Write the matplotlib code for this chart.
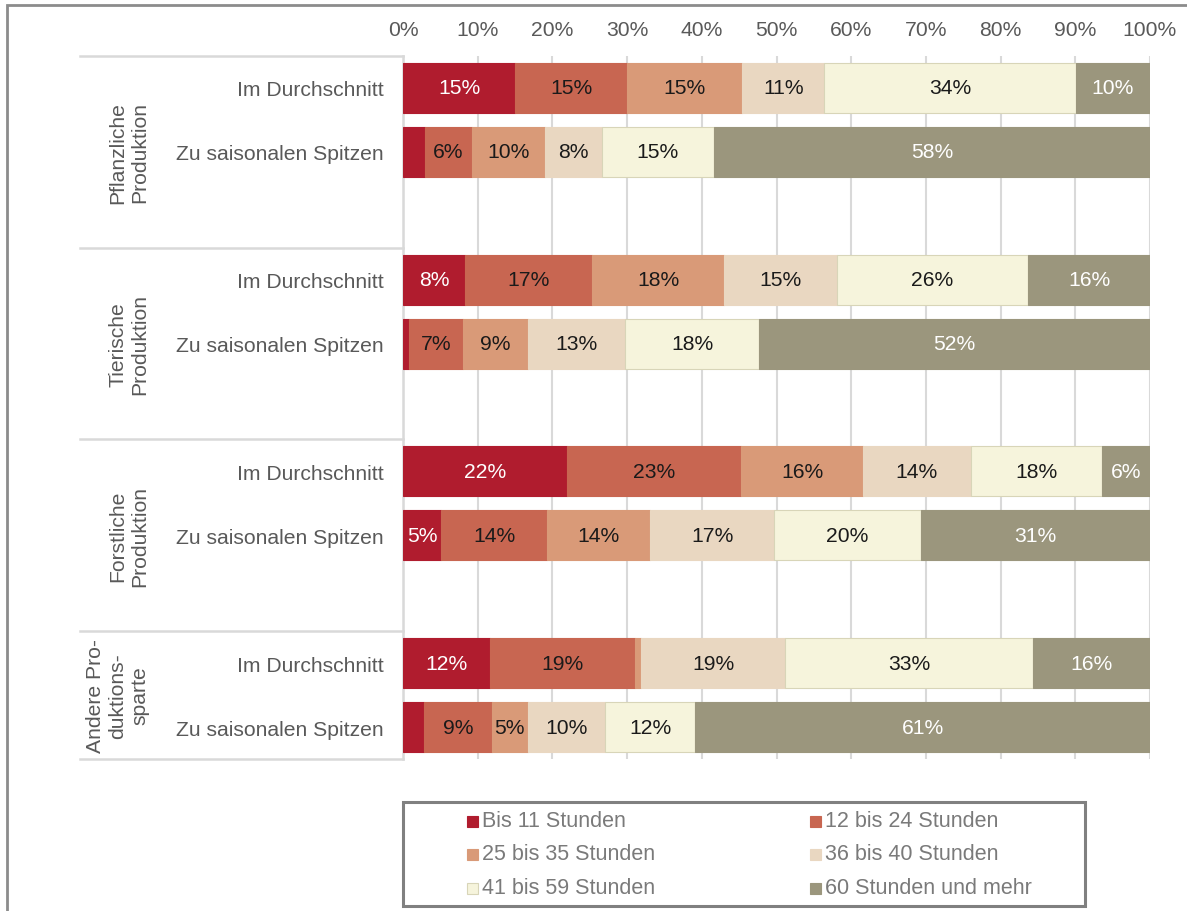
import matplotlib
matplotlib.use("Agg")
import matplotlib.pyplot as plt
from matplotlib.patches import Rectangle
import matplotlib.transforms as mtransforms
import numpy as np

plt.rcParams['font.family'] = ['Liberation Sans', 'DejaVu Sans']

# ---------------- data ----------------
groups = ["Pflanzliche\nProduktion", "Tierische\nProduktion",
          "Forstliche\nProduktion", "Andere Pro-\nduktions-\nsparte"]
rows = ["Im Durchschnitt", "Zu saisonalen Spitzen"]
series = ["Bis 11 Stunden", "12 bis 24 Stunden", "25 bis 35 Stunden",
          "36 bis 40 Stunden", "41 bis 59 Stunden", "60 Stunden und mehr"]
colors = ["#B01C2E", "#C86651", "#D99A78", "#E9D7C1", "#F6F4DC", "#9B967D"]
label_colors = ["white", "#1a1a1a", "#1a1a1a", "#1a1a1a", "#1a1a1a", "white"]

# values per bar (order: group 1 avg, group 1 peak, group 2 avg, ...)
bis11   = [15.0, 2.9, 8.3, 0.8, 22.0, 5.1, 11.6, 2.8]
h12_24  = [15.0, 6.3, 17.0, 7.2, 23.3, 14.2, 19.4, 9.1]
h25_35  = [15.4, 9.8, 17.7, 8.8, 16.3, 13.8, 0.8, 4.8]
h36_40  = [11.0, 7.6, 15.1, 12.9, 14.4, 16.6, 19.4, 10.4]
h41_59  = [33.7, 15.0, 25.6, 18.0, 17.6, 19.6, 33.2, 12.0]
h60plus = [9.9, 58.4, 16.3, 52.3, 6.4, 30.7, 15.6, 60.9]
values = np.array([bis11, h12_24, h25_35, h36_40, h41_59, h60plus])

xticks = [0, 10, 20, 30, 40, 50, 60, 70, 80, 90, 100]

# ---------------- layout ----------------
W, H = 1187, 912
fig = plt.figure(figsize=(W / 100, H / 100), dpi=100)
ax = fig.add_axes([403 / W, 1 - 760 / H, (1150 - 403) / W, (760 - 57) / H])

# slot positions: each group has 2 bars + a gap slot
ypos = []
for g in range(len(groups)):
    ypos += [3 * g, 3 * g + 1]
ypos = np.array(ypos, dtype=float)

FS = 15.2
bar_h = 0.78
left = np.zeros(len(ypos))
for i, (name, col) in enumerate(zip(series, colors)):
    vals = values[i]
    edge = "#D8D5B8" if i == 4 else col
    ax.barh(ypos, vals, left=left, height=bar_h, color=col, edgecolor=edge,
            linewidth=0.8, zorder=3)
    for y, l, v in zip(ypos, left, vals):
        if v >= 4:
            ax.text(l + v / 2, y, f"{v:.0f}%", ha="center", va="center",
                    fontsize=FS, color=label_colors[i], zorder=4)
    left = left + vals

ax.set_xlim(0, 100)
ax.set_ylim(10.5, -0.5)
ax.xaxis.tick_top()
ax.set_xticks(xticks)
ax.set_xticklabels([f"{t}%" for t in xticks])
ax.tick_params(axis="x", length=0, pad=12, labelsize=FS, labelcolor="#595959")
ax.set_yticks(ypos)
ax.set_yticklabels(rows * len(groups))
ax.tick_params(axis="y", length=0, pad=14, labelsize=FS, labelcolor="#595959")

ax.grid(axis="x", color="#D9D9D9", linewidth=1.5, zorder=0)
for s in ["top", "right", "bottom"]:
    ax.spines[s].set_visible(False)
ax.spines["left"].set_color("#D9D9D9")
ax.spines["left"].set_linewidth(1.8)

# group separators and group labels
trans = mtransforms.blended_transform_factory(ax.transAxes, ax.transData)
bounds = [-0.5, 2.5, 5.5, 8.5, 10.5]
x_left = (80 - 403) / (1150 - 403)
for b in bounds:
    ax.plot([x_left, 0], [b, b], transform=trans, color="#D9D9D9",
            linewidth=1.8, clip_on=False, zorder=1)
for g, name in enumerate(groups):
    yc = (bounds[g] + bounds[g + 1]) / 2
    xpx = 118 if name.count("\n") == 2 else 129
    ax.text((xpx - 403) / (1150 - 403), yc, name, transform=trans,
            rotation=90, ha="center", va="center", fontsize=FS,
            color="#595959", multialignment="center", linespacing=1.22)

# outer frame
fig.patches.append(Rectangle((7 / W, -0.01), 1.02, 1 - 6 / H + 0.01,
                             transform=fig.transFigure, fill=False,
                             edgecolor="#8C8C8C", linewidth=2))

# legend box
fig.patches.append(Rectangle((403 / W, 1 - 907 / H), (1085 - 403) / W,
                             (907 - 803) / H, transform=fig.transFigure,
                             fill=False, edgecolor="#808080", linewidth=2.2))
mx = [467, 810]
my = [822, 855, 889]
for i, (name, col) in enumerate(zip(series, colors)):
    cx = mx[i % 2]
    cy = my[i // 2]
    fig.patches.append(Rectangle((cx / W, 1 - (cy + 5.5) / H), 11 / W, 11 / H,
                                 transform=fig.transFigure, facecolor=col,
                                 edgecolor="#D8D5B8" if i == 4 else col,
                                 linewidth=0.8))
    fig.text((cx + 15) / W, 1 - cy / H, name, ha="left", va="center",
             fontsize=15.5, color="#7a7a7a")

fig.savefig("out.png", dpi=100)
